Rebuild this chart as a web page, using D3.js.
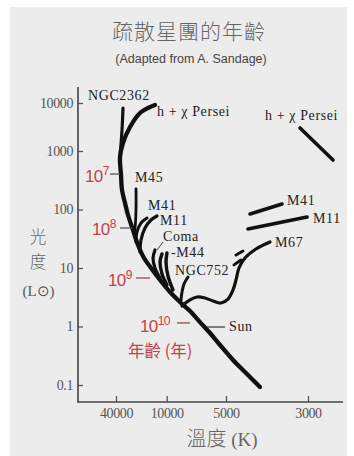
<!DOCTYPE html>
<html>
<head>
<meta charset="utf-8">
<script src="https://cdn.jsdelivr.net/npm/d3@7"></script>
<style>
html, body { margin: 0; padding: 0; background: #fff; }
</style>
</head>
<body>
<div id="chart"></div>
<script>
// axis ticks
const yTicks = [0.1, 1, 10, 100, 1000, 10000];
const yTickLabels = ["0.1", "1", "10", "100", "1000", "10000"];
const xTicks = [40000, 10000, 5000, 3000];
const xTickLabels = ["40000", "10000", "5000", "3000"];

// main sequence (upper end is the h + chi Persei turnoff), temperature K / luminosity Lsun
const mainSeqT = [13770, 16670, 20750, 27270, 33030, 35850, 34880, 33940, 31270, 28810, 25130, 21910, 18600, 15360, 12000, 9620, 8560, 7615, 6776, 6029, 5362, 4786, 4387, 4046];
const mainSeqL = [9085, 7870, 6190, 3162, 1468, 790, 389, 215, 129, 80.5, 44.6, 24.7, 14.8, 10.0, 6.24, 3.89, 2.62, 1.84, 1.19, 0.774, 0.483, 0.268, 0.154, 0.0924];

// turnoff branches
const ngc2362T = [33030, 33940, 35850];
const ngc2362L = [7870, 2738, 790];
const m45T = [23150, 23150, 23790, 24450];
const m45L = [224, 98, 48.3, 38.1];
const m41T = [17130, 20190, 22520, 23150];
const m41L = [71.6, 58.8, 41.3, 27.8];
const m11T = [13030, 15360, 18100, 20190, 20750];
const m11L = [77.4, 66.1, 48.3, 30.1, 18.8];
const comaT = [13770, 14540, 13770, 12000];
const comaL = [20.3, 14.8, 10.0, 6.75];
const m44aT = [11370, 12000, 11370, 9966];
const m44aL = [17.4, 12.7, 7.90, 5.12];
const m44bT = [9966, 10190, 9850, 9290];
const m44bL = [18.1, 12.7, 7.30, 4.21];
const ngc752T = [7797, 8170, 8362, 8460];
const ngc752L = [7.02, 5.33, 3.89, 2.84];
const m67T = [8362, 7615, 7017, 6392, 5821, 5301, 4939, 4786, 4698, 4612, 4442, 4148, 3801];
const m67L = [2.24, 2.84, 3.19, 3.07, 2.73, 2.52, 2.95, 4.21, 6.24, 10.0, 14.8, 21.1, 27.8];

// giant branches
const m41GiantT = [4305, 3527];
const m41GiantL = [84, 124];
const m11GiantT = [4360, 3018];
const m11GiantL = [46.4, 74.4];
const hxGiantT = [3153, 2567];
const hxGiantL = [3015, 702];
const ngc752ClumpAT = [4698, 4498];
const ngc752ClumpAL = [16.7, 19.5];
const ngc752ClumpBT = [4757, 4555];
const ngc752ClumpBL = [11.3, 13.7];

// age marks along the main sequence (years), with their leader lines
const ages = ["7", "8", "9", "10"];
const ageLeaderT = [[47100, 35900], [35850, 25820], [23150, 15790], [8866, 7615]];
const ageLeaderL = [404, 48.3, 6.75, 1.15];
const sunLeaderT = [6244, 5058];
const sunLeaderL = 0.98;
const comaLeaderT = [11060, 13030];
const comaLeaderL = [27.8, 20.3];

const width = 354;
const height = 456;
const red = "#c4404b";

const svg = d3.select("#chart")
    .append("svg")
    .attr("width", width)
    .attr("height", height);

svg.append("rect")
    .attr("x", 10).attr("y", 7)
    .attr("width", 337).attr("height", 449)
    .attr("fill", "#ececec");

// scales (the original axes are not uniformly spaced)
const x = d3.scaleLog()
    .domain([40000, 10000, 5000, 3000])
    .range([116, 166.7, 226, 308]);

const y = d3.scaleLog()
    .domain([0.1, 1000, 10000])
    .range([385, 151, 103]);

// axes
const yAxis = d3.axisLeft(y)
    .tickValues(yTicks)
    .tickFormat(d => yTickLabels[yTicks.indexOf(d)])
    .tickSizeInner(-5).tickSizeOuter(0).tickPadding(5);

const gy = svg.append("g").attr("transform", "translate(78,0)").call(yAxis);
gy.select(".domain").remove();

const xAxis = d3.axisBottom(x)
    .tickValues(xTicks)
    .tickFormat(d => xTickLabels[xTicks.indexOf(d)])
    .tickSizeInner(-6).tickSizeOuter(0).tickPadding(6);

const gx = svg.append("g").attr("transform", "translate(0,402)").call(xAxis);
gx.select(".domain").remove();

svg.selectAll(".tick text")
    .attr("font-family", "Liberation Serif")
    .attr("font-size", 14)
    .attr("letter-spacing", -0.4)
    .attr("fill", "#555");
svg.selectAll(".tick line")
    .attr("stroke", "#555")
    .attr("stroke-width", 1.3);

svg.append("line").attr("x1", 78).attr("x2", 78).attr("y1", 87).attr("y2", 402)
    .attr("stroke", "#444").attr("stroke-width", 1.6);
svg.append("line").attr("x1", 77.2).attr("x2", 343).attr("y1", 402).attr("y2", 402)
    .attr("stroke", "#444").attr("stroke-width", 1.6);

// tracks
const tracks = [
    { T: mainSeqT, L: mainSeqL, w: 4.3 },
    { T: ngc2362T, L: ngc2362L, w: 3.2 },
    { T: m45T, L: m45L, w: 2.8 },
    { T: m41T, L: m41L, w: 3 },
    { T: m11T, L: m11L, w: 3.2 },
    { T: comaT, L: comaL, w: 3.2 },
    { T: m44aT, L: m44aL, w: 3.4 },
    { T: m44bT, L: m44bL, w: 3.4 },
    { T: ngc752T, L: ngc752L, w: 3 },
    { T: m67T, L: m67L, w: 3.2 },
    { T: m41GiantT, L: m41GiantL, w: 3.6 },
    { T: m11GiantT, L: m11GiantL, w: 3.6 },
    { T: hxGiantT, L: hxGiantL, w: 3.6 },
    { T: ngc752ClumpAT, L: ngc752ClumpAL, w: 3 },
    { T: ngc752ClumpBT, L: ngc752ClumpBL, w: 3 }
];

const line = d3.line()
    .x(d => x(d[0]))
    .y(d => y(d[1]))
    .curve(d3.curveCatmullRom.alpha(0.5));

svg.selectAll("path.track")
    .data(tracks)
    .join("path")
    .attr("class", "track")
    .attr("d", d => line(d3.zip(d.T, d.L)))
    .attr("fill", "none")
    .attr("stroke", "#111")
    .attr("stroke-width", d => d.w)
    .attr("stroke-linecap", "round")
    .attr("stroke-linejoin", "round");

// leader lines
svg.selectAll("line.age")
    .data(ages)
    .join("line")
    .attr("class", "age")
    .attr("x1", (d, i) => x(ageLeaderT[i][0]))
    .attr("x2", (d, i) => x(ageLeaderT[i][1]))
    .attr("y1", (d, i) => y(ageLeaderL[i]))
    .attr("y2", (d, i) => y(ageLeaderL[i]))
    .attr("stroke", (d, i) => i < 2 ? "#555" : "#a0444c")
    .attr("stroke-width", 1.3);

svg.append("line")
    .attr("x1", x(sunLeaderT[0])).attr("x2", x(sunLeaderT[1]))
    .attr("y1", y(sunLeaderL)).attr("y2", y(sunLeaderL))
    .attr("stroke", "#333").attr("stroke-width", 1.2);

svg.append("line")
    .attr("x1", x(comaLeaderT[0])).attr("x2", x(comaLeaderT[1]))
    .attr("y1", y(comaLeaderL[0])).attr("y2", y(comaLeaderL[1]))
    .attr("stroke", "#333").attr("stroke-width", 0.9);

// age labels
const agePos = [[85, 182], [92, 235], [108, 286], [140, 332]];
const ageText = svg.selectAll("text.age")
    .data(ages)
    .join("text")
    .attr("class", "age")
    .attr("x", (d, i) => agePos[i][0])
    .attr("y", (d, i) => agePos[i][1])
    .attr("font-family", "Liberation Sans")
    .attr("font-size", 17)
    .attr("letter-spacing", -0.6)
    .attr("fill", red);
ageText.append("tspan").text("10");
ageText.append("tspan")
    .attr("dy", -7)
    .attr("font-size", 12)
    .text(d => d);

svg.append("text")
    .attr("x", 128).attr("y", 357)
    .attr("font-family", "Noto Sans CJK TC")
    .attr("font-size", 16.5)
    .attr("fill", red)
    .text("年齡 (年)");

// cluster labels
const clusterLabels = ["NGC2362", "h + χ Persei", "M45", "M41", "M11", "Coma", "-M44", "NGC752", "Sun", "h + χ Persei", "M41", "M11", "M67"];
const clusterPos = [[88, 100], [157, 116], [135, 182], [148, 210], [160, 225], [163, 241], [171, 257], [175, 275], [229, 331], [265, 120], [287, 205], [313, 223], [275, 247]];

svg.selectAll("text.cluster")
    .data(clusterLabels)
    .join("text")
    .attr("class", "cluster")
    .attr("x", (d, i) => clusterPos[i][0])
    .attr("y", (d, i) => clusterPos[i][1])
    .attr("font-family", "Liberation Serif")
    .attr("font-size", 14)
    .attr("letter-spacing", 0.6)
    .attr("fill", "#222")
    .text(d => d);

// titles
svg.append("text")
    .attr("x", 189).attr("y", 39)
    .attr("text-anchor", "middle")
    .attr("font-family", "Noto Sans CJK TC")
    .attr("font-weight", 300)
    .attr("font-size", 21)
    .attr("letter-spacing", 1)
    .attr("fill", "#666")
    .text("疏散星團的年齡");

svg.append("text")
    .attr("x", 191).attr("y", 63)
    .attr("text-anchor", "middle")
    .attr("font-family", "Liberation Sans")
    .attr("font-size", 12.5)
    .attr("fill", "#444")
    .text("(Adapted from A. Sandage)");

// y label, stacked vertically
const ylFont = { "font-family": "Noto Sans CJK TC", "font-weight": 300, "font-size": 16.5, "fill": "#666" };
const yl1 = svg.append("text").attr("x", 38).attr("y", 243).attr("text-anchor", "middle").text("光");
const yl2 = svg.append("text").attr("x", 38).attr("y", 268).attr("text-anchor", "middle").text("度");
[yl1, yl2].forEach(t => Object.entries(ylFont).forEach(([k, v]) => t.attr(k, v)));
svg.append("text").attr("x", 38.5).attr("y", 296)
    .attr("text-anchor", "middle")
    .attr("font-family", "Liberation Serif").attr("font-size", 15)
    .attr("fill", "#555").text("(L⊙)");

// x label
const xl = svg.append("text").attr("x", 222).attr("y", 446)
    .attr("text-anchor", "middle")
    .attr("fill", "#666");
xl.append("tspan").attr("font-family", "Noto Sans CJK TC").attr("font-weight", 300).attr("font-size", 20).text("溫度");
xl.append("tspan").attr("font-family", "Liberation Serif").attr("font-size", 19).text(" (K)");
</script>
</body>
</html>
